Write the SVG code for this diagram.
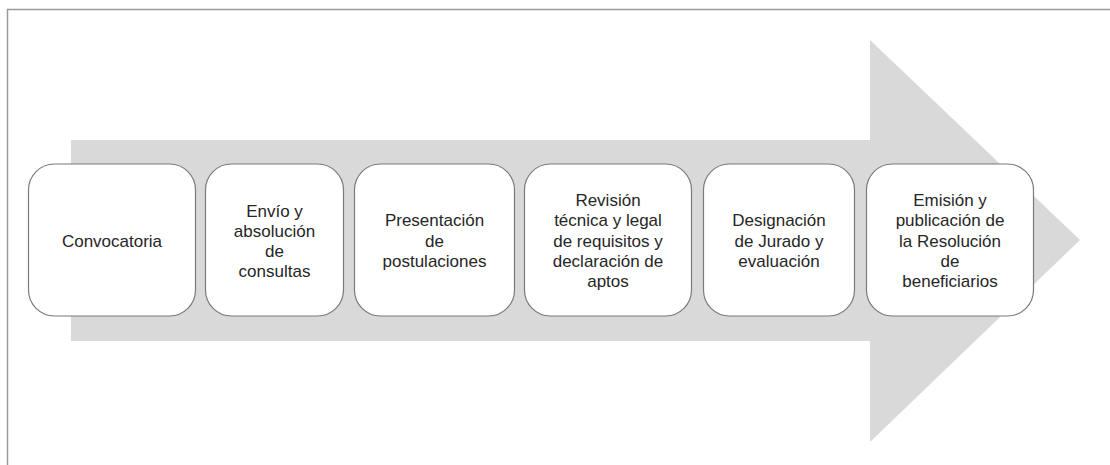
<svg xmlns="http://www.w3.org/2000/svg" width="1110" height="465" viewBox="0 0 1110 465">
<style>
.box{fill:#ffffff;stroke:#7a7a7a;stroke-width:1.2}
.t{font-family:"Liberation Sans",Arial,sans-serif;font-size:17px;fill:#262626;text-anchor:middle}
</style>
<rect x="0" y="0" width="1110" height="465" fill="#ffffff"/>
<path d="M7.5 465 V9.5 H1110" fill="none" stroke="#9a9a9a" stroke-width="1.5"/>
<g id="arrow">
<path d="M71 140 H870 V40 L1080 240 L870 442 V341 H71 Z" fill="#d9d9d9"/>
</g>
<g id="connectors"></g>
<g id="n1">
<rect class="box" x="28.5" y="164" width="167" height="152" rx="26"/>
<text class="t" x="112" y="246.5">Convocatoria</text>
</g>
<g id="n2">
<rect class="box" x="205.5" y="164" width="138" height="152" rx="26"/>
<text class="t" x="274.5" y="216.5">Envío y</text>
<text class="t" x="274.5" y="236.8">absolución</text>
<text class="t" x="274.5" y="257.1">de</text>
<text class="t" x="274.5" y="277.4">consultas</text>
</g>
<g id="n3">
<rect class="box" x="354.5" y="164" width="160" height="152" rx="26"/>
<text class="t" x="434.5" y="226.2">Presentación</text>
<text class="t" x="434.5" y="246.5">de</text>
<text class="t" x="434.5" y="266.8">postulaciones</text>
</g>
<g id="n4">
<rect class="box" x="524.5" y="164" width="167" height="152" rx="26"/>
<text class="t" x="608" y="205.9">Revisión</text>
<text class="t" x="608" y="226.2">técnica y legal</text>
<text class="t" x="608" y="246.5">de requisitos y</text>
<text class="t" x="608" y="266.8">declaración de</text>
<text class="t" x="608" y="287.1">aptos</text>
</g>
<g id="n5">
<rect class="box" x="703.5" y="164" width="151" height="152" rx="26"/>
<text class="t" x="779" y="226.2">Designación</text>
<text class="t" x="779" y="246.5">de Jurado y</text>
<text class="t" x="779" y="266.8">evaluación</text>
</g>
<g id="n6">
<rect class="box" x="866.5" y="164" width="167" height="152" rx="26"/>
<text class="t" x="950" y="205.9">Emisión y</text>
<text class="t" x="950" y="226.2">publicación de</text>
<text class="t" x="950" y="246.5">la Resolución</text>
<text class="t" x="950" y="266.8">de</text>
<text class="t" x="950" y="287.1">beneficiarios</text>
</g>
</svg>
